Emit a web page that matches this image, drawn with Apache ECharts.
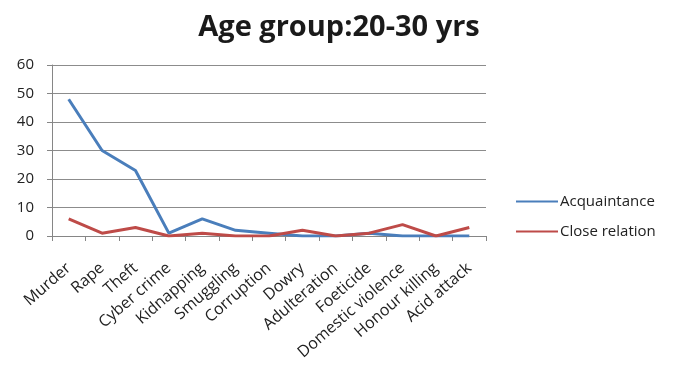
<!DOCTYPE html>
<html>
<head>
<meta charset="utf-8">
<script src="https://cdn.jsdelivr.net/npm/echarts@6/dist/echarts.min.js"></script>
<style>
html, body { margin: 0; padding: 0; background: #fff; }
#chart { width: 678px; height: 366px; }
</style>
</head>
<body>
<div id="chart"></div>
<script>
// Crime categories along the x axis
const categories = ['Murder', 'Rape', 'Theft', 'Cyber crime', 'Kidnapping', 'Smuggling', 'Corruption',
  'Dowry', 'Adulteration', 'Foeticide', 'Domestic violence', 'Honour killing', 'Acid attack'];

// Counts per relationship type
const acquaintance = [48, 30, 23, 1, 6, 2, 1, 0, 0, 1, 0, 0, 0];
const closeRelation = [6, 1, 3, 0, 1, 0, 0, 2, 0, 1, 4, 0, 3];

const titleText = 'Age group:20-30 yrs';
const seriesNames = ['Acquaintance', 'Close relation'];

const chart = echarts.init(document.getElementById('chart'));
const font = '"Open Sans", "DejaVu Sans", sans-serif';

chart.setOption({
  animation: false,
  backgroundColor: '#ffffff',
  title: {
    text: titleText,
    left: 'center',
    top: 8,
    textStyle: { fontFamily: font, fontSize: 29, fontWeight: 'bold', color: '#1a1a1a' }
  },
  legend: {
    orient: 'vertical',
    left: 511,
    top: 189,
    itemGap: 15,
    itemWidth: 42,
    itemHeight: 2,
    icon: 'rect',
    textStyle: { fontFamily: font, fontSize: 15, color: '#222', padding: [0, 0, 0, -3] },
    data: seriesNames
  },
  grid: { left: 52, right: 192, top: 65, bottom: 130 },
  xAxis: {
    type: 'category',
    data: categories,
    boundaryGap: true,
    axisLine: { lineStyle: { color: '#868686', width: 1 } },
    axisTick: { show: true, length: 5, lineStyle: { color: '#868686' } },
    axisLabel: { rotate: 41, interval: 0, fontFamily: font, fontSize: 16, color: '#222', margin: 30 }
  },
  yAxis: {
    type: 'value',
    min: 0,
    max: 60,
    interval: 10,
    axisLine: { show: true, lineStyle: { color: '#868686' } },
    axisTick: { show: true, length: 5, inside: false, lineStyle: { color: '#868686' } },
    axisLabel: { fontFamily: font, fontSize: 15, color: '#222', margin: 18 },
    splitLine: { lineStyle: { color: '#8c8c8c', width: 1 } }
  },
  series: [
    {
      name: seriesNames[0],
      type: 'line',
      data: acquaintance,
      showSymbol: false,
      symbol: 'none',
      lineStyle: { color: '#4a7ebb', width: 3 },
      itemStyle: { color: '#4a7ebb' },
      z: 2
    },
    {
      name: seriesNames[1],
      type: 'line',
      data: closeRelation,
      showSymbol: false,
      symbol: 'none',
      lineStyle: { color: '#be4b48', width: 3 },
      itemStyle: { color: '#be4b48' },
      z: 3
    }
  ]
});
</script>
</body>
</html>
